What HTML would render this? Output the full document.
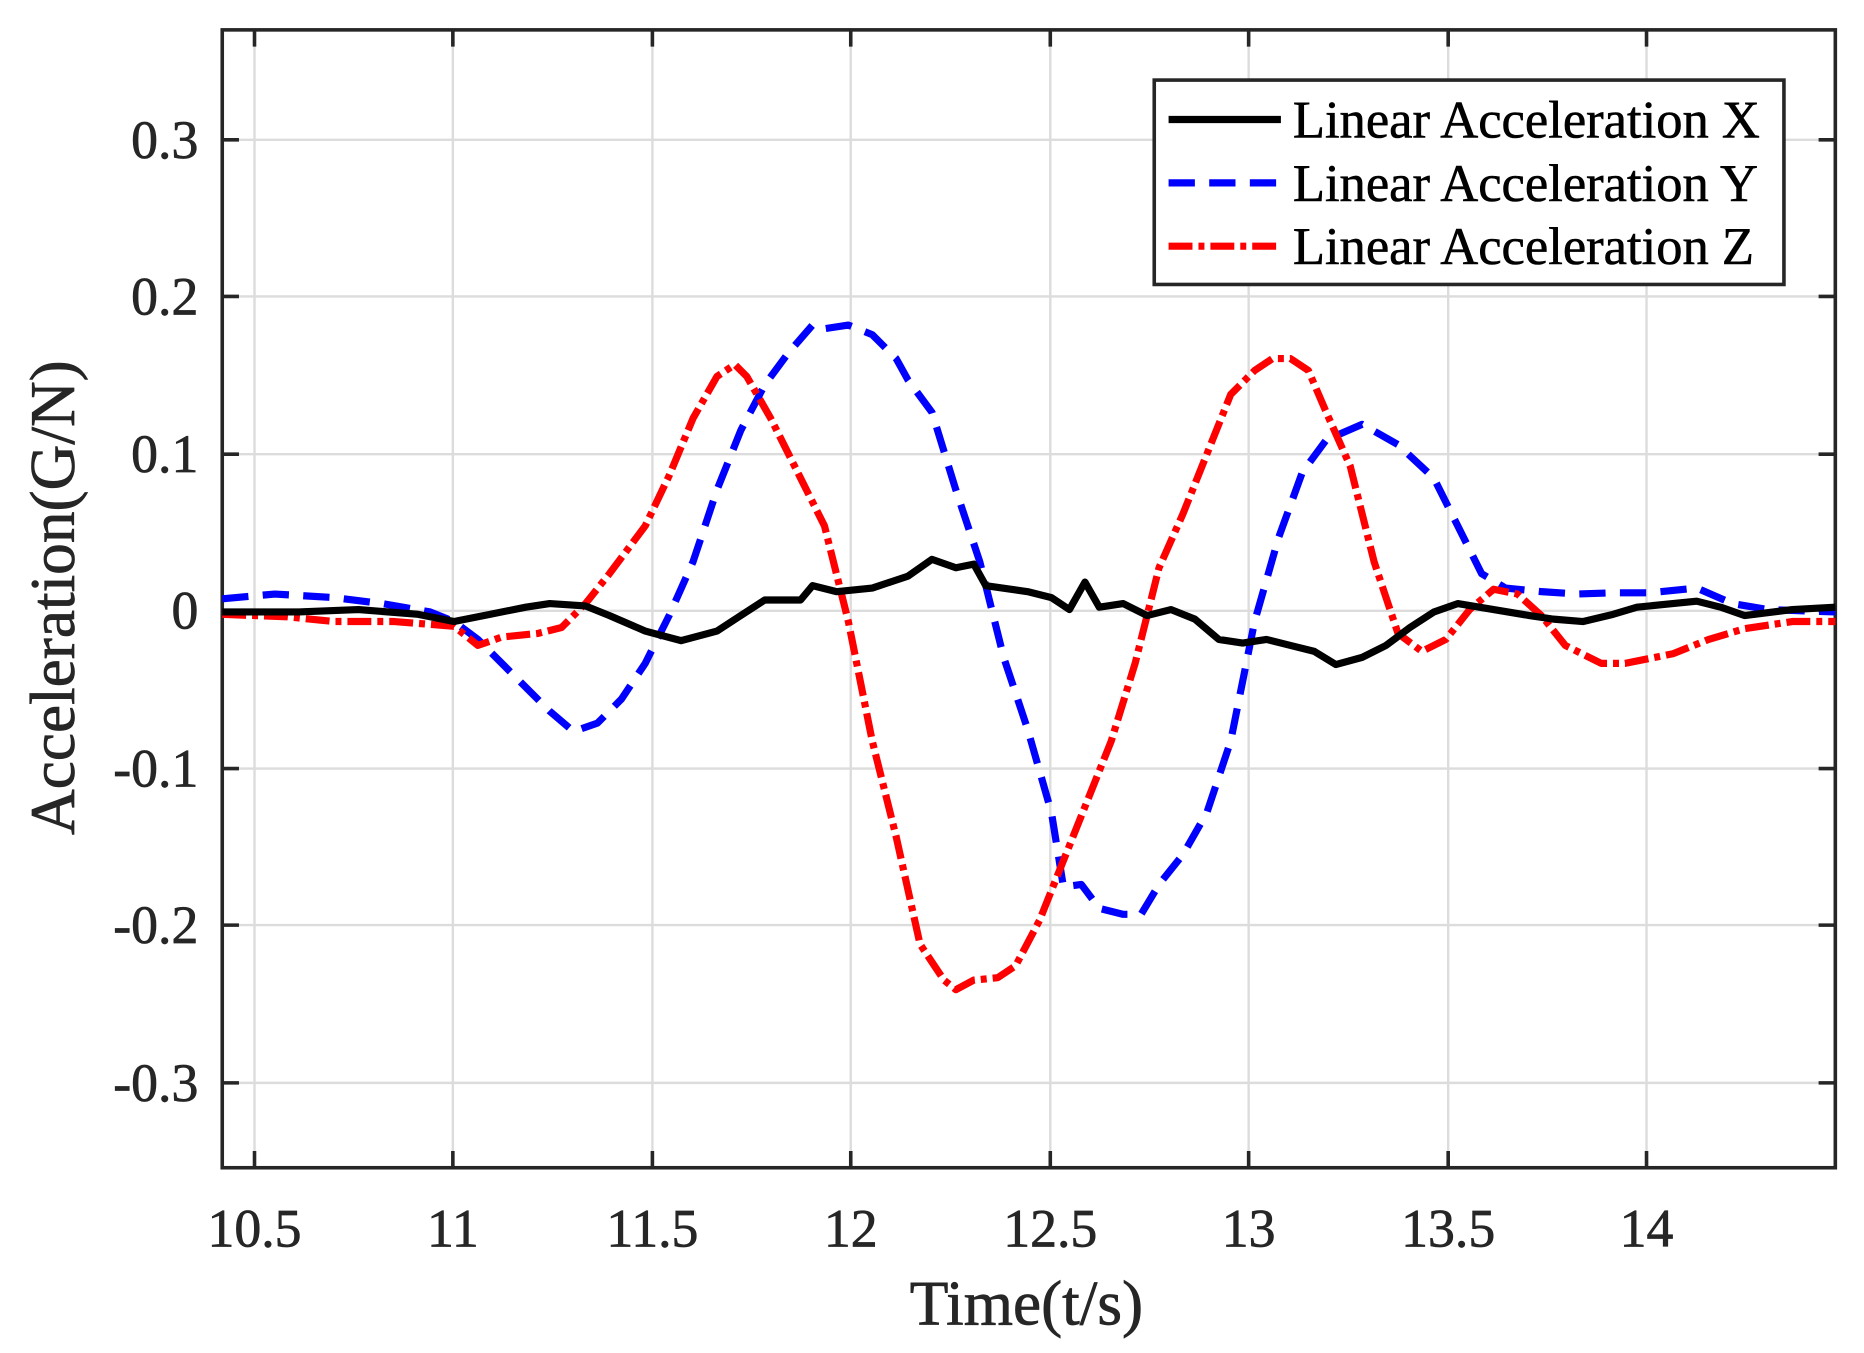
<!DOCTYPE html>
<html><head><style>html,body{margin:0;padding:0;background:#fff}svg{display:block}</style></head>
<body>
<svg width="1864" height="1353" viewBox="0 0 1560 1132" preserveAspectRatio="none" xmlns="http://www.w3.org/2000/svg" font-family="Liberation Serif, serif">
<rect width="1560" height="1132" fill="#fff"/>
<g stroke="#dcdcdc" stroke-width="2">
<line x1="213" y1="25" x2="213" y2="977"/><line x1="379" y1="25" x2="379" y2="977"/><line x1="546" y1="25" x2="546" y2="977"/><line x1="712" y1="25" x2="712" y2="977"/><line x1="879" y1="25" x2="879" y2="977"/><line x1="1045" y1="25" x2="1045" y2="977"/><line x1="1212" y1="25" x2="1212" y2="977"/><line x1="1378" y1="25" x2="1378" y2="977"/>
<line x1="186" y1="117" x2="1536" y2="117"/><line x1="186" y1="248" x2="1536" y2="248"/><line x1="186" y1="380" x2="1536" y2="380"/><line x1="186" y1="511" x2="1536" y2="511"/><line x1="186" y1="643" x2="1536" y2="643"/><line x1="186" y1="774" x2="1536" y2="774"/><line x1="186" y1="906" x2="1536" y2="906"/>
</g>
<g stroke="#262626" stroke-width="3">
<path d="M213 977v-14M379 977v-14M546 977v-14M712 977v-14M879 977v-14M1045 977v-14M1212 977v-14M1378 977v-14M213 25v14M379 25v14M546 25v14M712 25v14M879 25v14M1045 25v14M1212 25v14M1378 25v14"/>
<path d="M186 117h14M186 248h14M186 380h14M186 511h14M186 643h14M186 774h14M186 906h14M1536 117h-14M1536 248h-14M1536 380h-14M1536 511h-14M1536 643h-14M1536 774h-14M1536 906h-14"/>
<rect x="186" y="25" width="1350" height="952" fill="none"/>
</g>
<g fill="none" stroke-width="6" stroke-linejoin="round">
<polyline stroke="#0000ff" stroke-dasharray="22,12" points="186,501 230,497 280,500 320,505 360,512 380,520 400,535 430,565 460,595 480,612 500,605 520,585 540,555 560,515 580,470 600,410 620,360 640,322 660,295 680,272 690,275 710,272 730,280 750,300 760,318 780,345 800,410 820,470 840,550 860,610 880,680 890,742 905,740 920,760 940,765 955,765 970,740 990,715 1010,680 1030,620 1050,520 1070,450 1090,395 1110,368 1140,355 1170,372 1200,400 1220,440 1240,480 1260,492 1290,495 1320,497 1350,496 1380,496 1420,492 1450,505 1480,510 1536,512"/>
<polyline stroke="#ff0000" stroke-dasharray="20,5,5,5" points="186,514 240,516 280,520 330,520 380,524 400,540 420,533 450,530 470,525 490,505 510,480 540,440 560,398 580,350 600,315 615,305 625,315 645,350 670,400 690,440 710,520 730,620 750,700 770,790 790,820 800,828 815,820 835,818 850,808 870,770 890,720 910,670 930,620 950,555 970,475 990,430 1010,380 1030,330 1050,310 1065,300 1080,300 1095,310 1110,345 1130,390 1150,470 1170,530 1190,545 1210,535 1230,510 1250,493 1270,497 1290,515 1310,540 1340,555 1360,555 1400,547 1430,535 1460,526 1500,520 1536,520"/>
<polyline stroke="#000" points="186,512 250,512 300,510 350,514 380,520 410,514 440,508 460,505 490,507 510,515 540,528 570,536 600,528 620,515 640,502 670,502 680,490 700,495 730,492 760,482 780,468 800,475 815,472 825,490 860,495 880,500 895,510 908,487 920,508 940,505 960,515 980,510 1000,518 1020,535 1040,538 1060,535 1080,540 1100,545 1118,556 1140,550 1160,540 1180,525 1200,512 1220,505 1250,510 1280,515 1300,518 1325,520 1350,514 1370,508 1400,505 1420,503 1440,508 1460,515 1500,510 1536,508"/>
</g>
<g font-size="45" fill="#262626" stroke="#262626" stroke-width="0.6" text-anchor="end">
<text x="166" y="132">0.3</text><text x="166" y="263">0.2</text><text x="166" y="395">0.1</text><text x="166" y="526">0</text><text x="166" y="658">-0.1</text><text x="166" y="789">-0.2</text><text x="166" y="921">-0.3</text>
</g>
<g font-size="45" fill="#262626" stroke="#262626" stroke-width="0.6" text-anchor="middle">
<text x="213" y="1043">10.5</text><text x="379" y="1043">11</text><text x="546" y="1043">11.5</text><text x="712" y="1043">12</text><text x="879" y="1043">12.5</text><text x="1045" y="1043">13</text><text x="1212" y="1043">13.5</text><text x="1378" y="1043">14</text>
<text x="859" y="1108" font-size="53">Time(t/s)</text>
<text transform="translate(62,500) rotate(-90)" font-size="53">Acceleration(G/N)</text>
</g>
<rect x="966" y="67" width="527" height="171" fill="#fff" stroke="#262626" stroke-width="3"/>
<g stroke-width="6"><line x1="978" y1="100" x2="1072" y2="100" stroke="#000"/><line x1="978" y1="153" x2="1072" y2="153" stroke="#0000ff" stroke-dasharray="22,12"/><line x1="978" y1="206" x2="1072" y2="206" stroke="#ff0000" stroke-dasharray="20,5,5,5"/></g>
<g font-size="44" fill="#000" stroke="#000" stroke-width="0.5"><text x="1082" y="115">Linear Acceleration X</text><text x="1082" y="168">Linear Acceleration Y</text><text x="1082" y="221">Linear Acceleration Z</text></g>
</svg>
</body></html>
